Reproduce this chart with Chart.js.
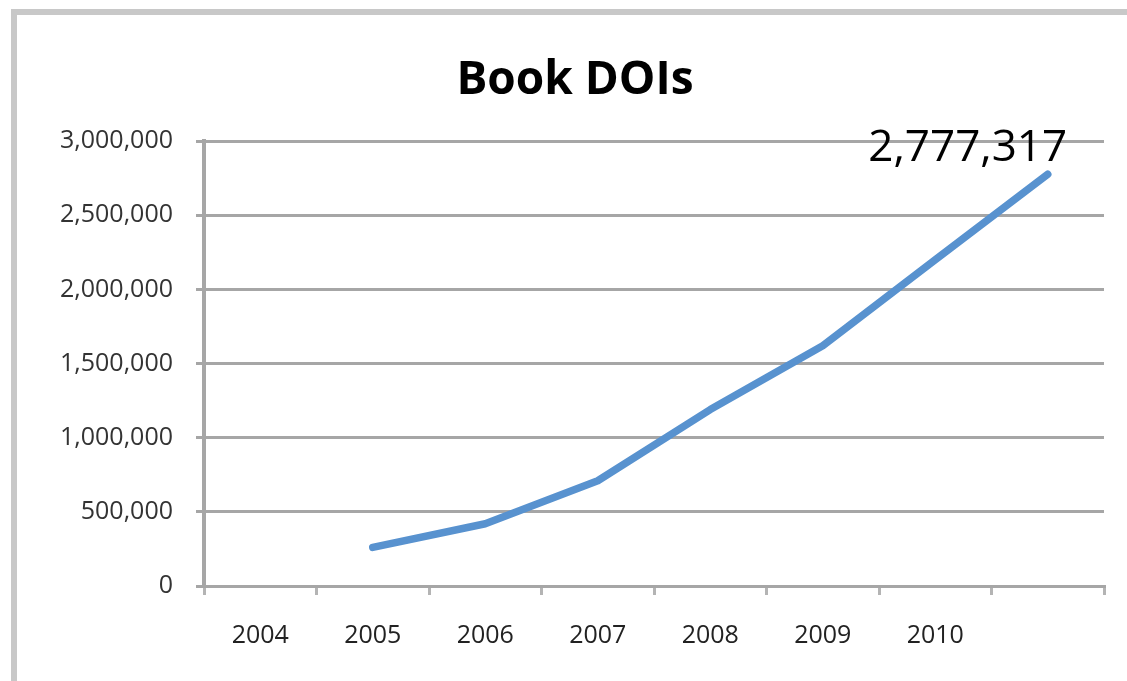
<!DOCTYPE html>
<html>
<head>
<meta charset="utf-8">
<script src="https://cdn.jsdelivr.net/npm/chart.js@4.4.1/dist/chart.umd.min.js"></script>
<style>
html,body{margin:0;padding:0;background:#fff;}
#wrap{position:relative;width:1127px;height:681px;}
</style>
</head>
<body>
<div id="wrap"><canvas id="c" width="1127" height="681"></canvas></div>
<script>
const title = "Book DOIs";
const categories = ["2004", "2005", "2006", "2007", "2008", "2009", "2010", ""];
const bookDOIs = [null, 260000, 420000, 710000, 1190000, 1620000, 2200000, 2777317];
const yTicks = [0, 500000, 1000000, 1500000, 2000000, 2500000, 3000000];
const labelledIndex = 7;

const fmt = v => v.toLocaleString('en-US');

const framePlugin = {
  id: 'frame',
  beforeDraw(chart) {
    const ctx = chart.ctx;
    ctx.save();
    ctx.fillStyle = '#ffffff';
    ctx.fillRect(0, 0, chart.width, chart.height);
    ctx.strokeStyle = '#c8c8c8';
    ctx.lineWidth = 6;
    ctx.strokeRect(14, 12, 3000, 3000);
    ctx.restore();
  }
};

const valueLabelPlugin = {
  id: 'valueLabel',
  afterDatasetsDraw(chart) {
    const meta = chart.getDatasetMeta(0);
    const pt = meta.data[labelledIndex];
    if (!pt) return;
    const ctx = chart.ctx;
    ctx.save();
    ctx.font = '44px "Open Sans"';
    ctx.fillStyle = '#000000';
    ctx.textAlign = 'center';
    ctx.textBaseline = 'alphabetic';
    ctx.fillText(fmt(bookDOIs[labelledIndex]), pt.x - 80, pt.y - 13);
    ctx.restore();
  }
};

new Chart(document.getElementById('c'), {
  type: 'line',
  data: {
    labels: categories,
    datasets: [{
      data: bookDOIs,
      borderColor: '#5892cf',
      borderWidth: 7.5,
      borderCapStyle: 'round',
      borderJoinStyle: 'round',
      pointRadius: 0,
      pointHoverRadius: 0,
      tension: 0,
      spanGaps: false,
      fill: false
    }]
  },
  options: {
    responsive: false,
    animation: false,
    devicePixelRatio: 1,
    layout: { padding: { top: 0, right: 23, bottom: 0, left: 46 } },
    plugins: {
      legend: { display: false },
      tooltip: { enabled: false },
      title: {
        display: true,
        text: title,
        color: '#000000',
        font: { family: '"Open Sans"', size: 46, weight: 'bold', lineHeight: 1.2 },
        padding: { top: 53, bottom: 33 }
      }
    },
    scales: {
      x: {
        type: 'category',
        offset: true,
        grid: {
          offset: true,
          drawOnChartArea: false,
          drawTicks: true,
          tickLength: 9,
          color: '#b4b4b4',
          lineWidth: 3
        },
        border: { display: true, color: '#a6a6a6', width: 3 },
        ticks: {
          color: '#222222',
          font: { family: '"Open Sans"', size: 25 },
          padding: 26,
          maxRotation: 0,
          autoSkip: false
        },
        afterFit(scale) { scale.height = 95; }
      },
      y: {
        min: 0,
        max: 3000000,
        afterBuildTicks(scale) { scale.ticks = yTicks.map(v => ({ value: v })); },
        grid: {
          color: '#a6a6a6',
          lineWidth: 3,
          drawTicks: true,
          tickLength: 8
        },
        border: { display: true, color: '#a6a6a6', width: 4 },
        ticks: {
          color: '#333333',
          font: { family: '"Open Sans"', size: 25 },
          padding: 23,
          callback: v => fmt(v)
        },
        afterFit(scale) { scale.width = 158; }
      }
    }
  },
  plugins: [framePlugin, valueLabelPlugin]
});
</script>
</body>
</html>
